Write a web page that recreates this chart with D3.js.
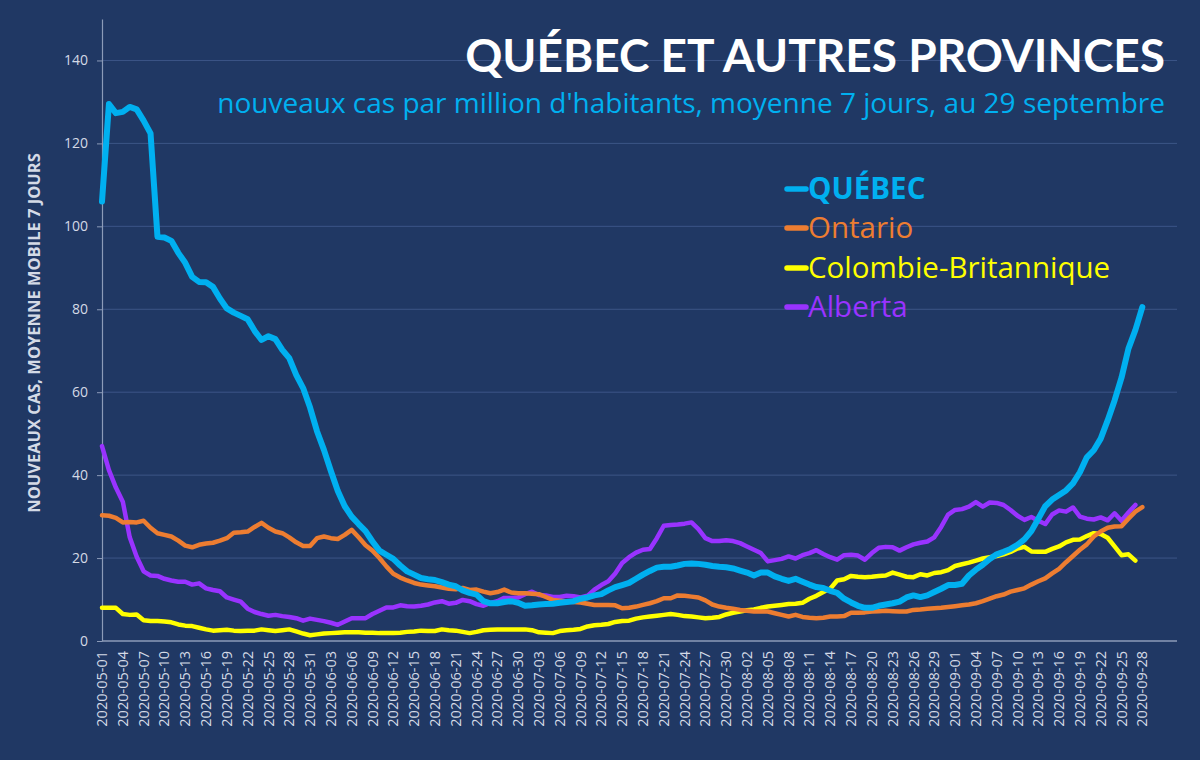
<!DOCTYPE html>
<html><head><meta charset="utf-8">
<script src="https://cdn.jsdelivr.net/npm/d3@7"></script>
<style>
html,body{margin:0;padding:0;background:#203864;}
svg{display:block;}
text{font-family:Lato, "Open Sans", sans-serif;}
</style></head><body>
<svg id="chart" width="1200" height="760"></svg>
<script>
// ---- Data (new cases per million, 7-day mean), day index 0 = 2020-05-01 ----
const startDate = "2020-05-01";
const seriesNames = ["QUÉBEC", "Ontario", "Colombie-Britannique", "Alberta"];
const quebec = [106,129.5,127.3,127.6,128.8,128.2,125.5,122.4,97.5,97.3,96.5,93.6,91.2,87.8,86.6,86.5,85.4,82.6,80.2,79.2,78.4,77.6,74.8,72.6,73.5,72.8,70.2,68.2,64.2,61.0,56.3,50.6,46.1,41.0,36.2,32.5,30.0,28.2,26.5,24.0,21.8,20.8,19.8,18.2,16.8,16.0,15.2,14.9,14.7,14.2,13.6,13.2,12.2,11.6,11.2,9.6,9.1,9.1,9.4,9.6,9.2,8.5,8.6,8.8,8.9,9.0,9.2,9.4,9.6,10.2,10.5,11.0,11.3,12.2,13.0,13.5,14.0,15.0,16.0,16.9,17.7,17.9,17.9,18.2,18.6,18.7,18.6,18.4,18.1,17.9,17.8,17.5,17.0,16.5,15.8,16.5,16.5,15.6,15.0,14.5,15.0,14.3,13.6,13.0,12.8,12.1,11.6,10.2,9.3,8.5,8.0,8.0,8.5,8.8,9.1,9.5,10.5,11.0,10.6,11.0,11.8,12.6,13.5,13.5,13.8,15.8,17.2,18.4,19.8,20.9,21.5,22.2,23.2,24.5,26.5,29.5,32.5,34.1,35.2,36.3,38.0,40.7,44.3,46.0,48.8,53.2,58.0,63.5,70.5,75.0,80.5];
const ontario = [30.3,30.2,29.7,28.6,28.7,28.6,29.0,27.3,26.0,25.6,25.2,24.2,23.0,22.6,23.2,23.5,23.7,24.2,24.8,26.1,26.2,26.4,27.5,28.5,27.3,26.4,26.0,25.0,23.8,22.9,22.9,24.8,25.2,24.8,24.6,25.6,26.8,25.0,23.1,21.8,20.0,18.0,16.2,15.3,14.6,14.0,13.6,13.4,13.2,12.9,12.6,12.5,12.8,12.3,12.4,11.9,11.5,11.8,12.4,11.7,11.5,11.5,11.4,11.3,10.6,9.9,9.7,9.5,9.4,9.3,9.0,8.7,8.7,8.7,8.6,7.9,8.0,8.3,8.7,9.1,9.6,10.3,10.3,11.0,10.9,10.7,10.5,9.8,8.8,8.3,8.0,7.8,7.5,7.3,7.1,7.1,7.1,6.7,6.3,5.9,6.3,5.8,5.6,5.5,5.6,5.9,5.9,6.0,6.8,6.8,6.9,7.1,7.2,7.3,7.2,7.1,7.1,7.5,7.6,7.8,7.9,8.0,8.2,8.4,8.6,8.8,9.1,9.6,10.2,10.8,11.2,11.9,12.3,12.7,13.6,14.4,15.1,16.3,17.4,19.0,20.5,22.0,23.3,25.2,26.4,27.3,27.6,27.7,29.5,31.2,32.3];
const colombieBritannique = [8.0,8.0,8.0,6.5,6.3,6.4,5.0,4.8,4.8,4.7,4.5,4.0,3.7,3.6,3.2,2.8,2.5,2.6,2.7,2.5,2.4,2.5,2.5,2.8,2.6,2.4,2.6,2.8,2.3,1.8,1.4,1.6,1.8,1.9,2.0,2.1,2.1,2.1,2.0,2.0,1.9,1.9,1.9,2.0,2.2,2.3,2.5,2.4,2.4,2.8,2.6,2.5,2.2,1.9,2.2,2.6,2.7,2.8,2.8,2.8,2.8,2.8,2.6,2.1,2.0,1.9,2.4,2.6,2.7,2.9,3.5,3.8,3.9,4.1,4.6,4.8,4.9,5.4,5.7,5.9,6.1,6.3,6.5,6.3,6.0,5.9,5.7,5.5,5.6,5.8,6.4,6.8,7.1,7.4,7.6,8.0,8.3,8.5,8.7,8.9,9.0,9.2,10.2,10.9,11.8,12.6,14.6,14.9,15.7,15.5,15.4,15.5,15.7,15.8,16.5,16.0,15.5,15.4,16.1,15.8,16.4,16.6,17.1,18.1,18.5,18.9,19.4,19.9,20.2,20.5,20.9,21.5,22.3,22.7,21.6,21.5,21.5,22.2,22.8,23.8,24.4,24.5,25.3,26.0,25.8,24.9,22.8,20.7,20.9,19.4];
const alberta = [47.0,41.2,37.0,33.6,25.0,20.3,16.8,15.8,15.7,15.0,14.6,14.3,14.3,13.6,13.9,12.7,12.3,12.0,10.5,10.0,9.5,7.8,7.0,6.5,6.1,6.3,6.0,5.8,5.5,4.9,5.4,5.1,4.8,4.4,3.9,4.7,5.5,5.5,5.5,6.5,7.3,8.1,8.1,8.6,8.4,8.3,8.5,8.8,9.3,9.6,9.0,9.2,9.9,9.6,8.9,8.5,9.2,9.6,10.4,10.4,10.5,11.3,11.9,11.1,11.0,10.6,10.6,10.9,10.8,10.5,10.9,12.4,13.5,14.4,16.3,18.8,20.2,21.3,22.0,22.2,24.8,27.8,28.0,28.1,28.3,28.6,27.0,24.8,24.1,24.1,24.3,24.1,23.6,22.8,22.0,21.2,19.2,19.5,19.8,20.4,19.9,20.7,21.2,21.9,21.0,20.2,19.6,20.7,20.8,20.6,19.6,21.2,22.5,22.7,22.6,21.8,22.6,23.3,23.7,24.0,25.0,27.5,30.5,31.6,31.8,32.4,33.5,32.4,33.4,33.3,32.8,31.6,30.2,29.2,29.9,29.0,28.2,30.5,31.5,31.2,32.2,30.0,29.5,29.3,29.8,29.1,30.8,29.0,31.0,32.8];
const yTicks = [0,20,40,60,80,100,120,140];
const xTickLabels = ["2020-05-01","2020-05-04","2020-05-07","2020-05-10","2020-05-13","2020-05-16","2020-05-19","2020-05-22","2020-05-25","2020-05-28","2020-05-31","2020-06-03","2020-06-06","2020-06-09","2020-06-12","2020-06-15","2020-06-18","2020-06-21","2020-06-24","2020-06-27","2020-06-30","2020-07-03","2020-07-06","2020-07-09","2020-07-12","2020-07-15","2020-07-18","2020-07-21","2020-07-24","2020-07-27","2020-07-30","2020-08-02","2020-08-05","2020-08-08","2020-08-11","2020-08-14","2020-08-17","2020-08-20","2020-08-23","2020-08-26","2020-08-29","2020-09-01","2020-09-04","2020-09-07","2020-09-10","2020-09-13","2020-09-16","2020-09-19","2020-09-22","2020-09-25","2020-09-28"];
const titleText = "QUÉBEC ET AUTRES PROVINCES";
const subtitleText = "nouveaux cas par million d'habitants, moyenne 7 jours, au 29 septembre";
const yAxisTitle = "NOUVEAUX CAS, MOYENNE MOBILE 7 JOURS";

(function draw() {
  const svg = d3.select("#chart");
  const W = 1200, H = 760;
  const pLeft = 102, pRight = 1177, pTop = 19, pBottom = 641;
  const bg = "#203864";
  const colors = ["#00b0f0", "#ed7d31", "#ffff00", "#9933ff"];
  const widths = [6, 4.5, 4.5, 4.5];
  const OS = "'Open Sans', Lato, sans-serif";

  svg.append("rect").attr("width", W).attr("height", H).attr("fill", bg);

  const parse = d3.timeParse("%Y-%m-%d");
  const day0 = parse(startDate);
  const dayIndex = s => d3.timeDay.count(day0, parse(s));

  const x = d3.scaleLinear().domain([0, 155]).range([pLeft, pRight]);
  const y = d3.scaleLinear().domain([0, 150]).range([pBottom, pTop]);

  // gridlines
  svg.append("g").selectAll("line").data(yTicks.filter(d => d > 0)).join("line")
    .attr("x1", pLeft).attr("x2", pRight)
    .attr("y1", d => y(d)).attr("y2", d => y(d))
    .attr("stroke", "#3c5587").attr("stroke-width", 1);

  // y axis
  const yAxis = svg.append("g").attr("transform", `translate(${pLeft},0)`)
    .call(d3.axisLeft(y).tickValues(yTicks).tickSize(5).tickPadding(9).tickSizeOuter(0));
  yAxis.select(".domain").attr("stroke", "#8c9bb8").attr("stroke-width", 1.2);
  yAxis.selectAll(".tick line").attr("stroke", "#8c9bb8");
  yAxis.selectAll(".tick text").attr("fill", "#d4dae6").attr("font-size", 14)
    .style("font-family", OS);

  // x axis baseline
  svg.append("line").attr("x1", pLeft).attr("x2", pRight).attr("y1", pBottom).attr("y2", pBottom)
    .attr("stroke", "#8c9bb8").attr("stroke-width", 1.5);

  // x tick labels
  svg.append("g").selectAll("text").data(xTickLabels).join("text")
    .attr("transform", d => `translate(${x(dayIndex(d))},651) rotate(-90)`)
    .attr("text-anchor", "end").attr("dy", "0.35em")
    .attr("fill", "#d4dae6").attr("font-size", 14.5)
    .style("font-family", OS)
    .text(d => d);

  // y axis title
  svg.append("text")
    .attr("transform", `translate(40,333) rotate(-90)`)
    .attr("text-anchor", "middle")
    .attr("fill", "#d4dae6").attr("font-size", 16.5).attr("font-weight", "bold")
    .style("font-family", OS)
    .text(yAxisTitle);

  // lines
  const allSeries = [quebec, ontario, colombieBritannique, alberta];
  const line = d3.line().x((d, i) => x(i)).y(d => y(d)).curve(d3.curveLinear);
  [3, 2, 1, 0].forEach(k => {
    svg.append("path").datum(allSeries[k])
      .attr("d", line).attr("fill", "none")
      .attr("stroke", colors[k]).attr("stroke-width", widths[k])
      .attr("stroke-linejoin", "round").attr("stroke-linecap", "round");
  });

  // title / subtitle
  svg.append("text").attr("x", 1165).attr("y", 72).attr("text-anchor", "end")
    .attr("fill", "#ffffff").attr("font-size", 46).attr("font-weight", "bold")
    .text(titleText);
  svg.append("text").attr("x", 1165).attr("y", 113).attr("text-anchor", "end")
    .attr("fill", "#00b0f0").attr("font-size", 28)
    .style("font-family", OS)
    .text(subtitleText);

  // legend
  const legY = [199, 238, 278, 317];
  const leg = svg.append("g");
  seriesNames.forEach((name, k) => {
    leg.append("line").attr("x1", 787).attr("x2", 806)
      .attr("y1", legY[k] - 10).attr("y2", legY[k] - 10)
      .attr("stroke", colors[k]).attr("stroke-width", 5.5).attr("stroke-linecap", "round");
    leg.append("text").attr("x", 808).attr("y", legY[k])
      .attr("fill", colors[k]).attr("font-size", 29.5)
      .attr("font-weight", k === 0 ? "bold" : "normal")
      .style("font-family", OS)
      .text(name);
  });
})();
</script>
</body></html>
